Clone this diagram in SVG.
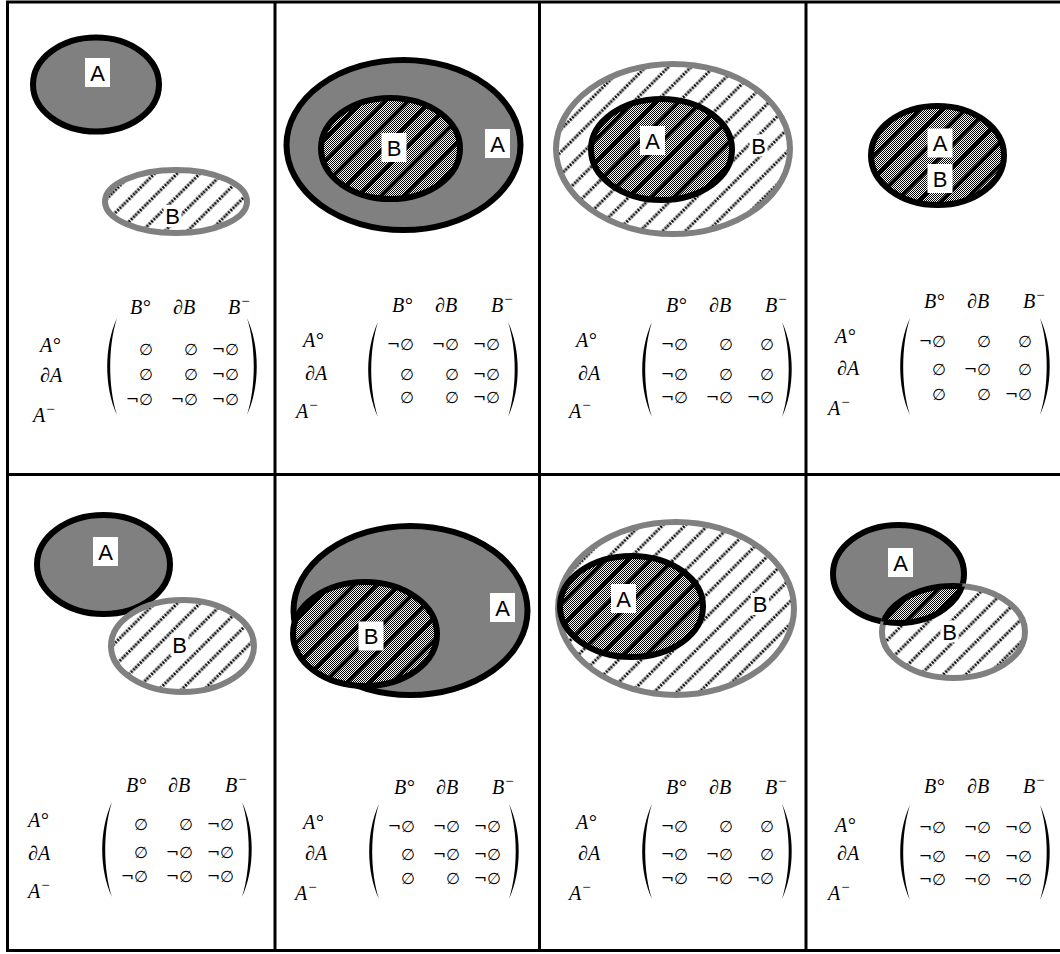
<svg xmlns="http://www.w3.org/2000/svg" width="1060" height="954" viewBox="0 0 1060 954">
<style>
.grid{stroke:#000;stroke-width:3;fill:none}
.sa{fill:#808080;stroke:#000;stroke-width:6}
.sb{fill:url(#hatch);stroke:#808080;stroke-width:6}
.ck{fill:url(#checker);stroke:none}
.st{fill:url(#stripes);stroke:#000;stroke-width:6}
.ol{fill:none;stroke:#000;stroke-width:6}
.bx{fill:#fff}
.lbl{font-family:"Liberation Sans",Arial,sans-serif;font-size:22px;text-anchor:middle;fill:#000}
.m{font-family:"Liberation Serif","DejaVu Serif",serif;font-style:italic;font-size:20px;fill:#000}
.sup{font-size:15px}
.e{font-family:"DejaVu Sans",sans-serif;font-style:italic;font-size:16px;text-anchor:end;fill:#000}
.par{fill:#000}
</style>
<defs>
<pattern id="hatch" patternUnits="userSpaceOnUse" width="16" height="16" patternTransform="rotate(45)">
<rect width="16" height="16" fill="#fff"/>
<line x1="8" y1="0" x2="8" y2="16" stroke="#000" stroke-width="3" stroke-dasharray="2 1.2"/>
</pattern>
<pattern id="checker" patternUnits="userSpaceOnUse" width="2" height="2">
<rect width="2" height="2" fill="#fff"/>
<rect width="1" height="1" fill="#000"/>
<rect x="1" y="1" width="1" height="1" fill="#000"/>
</pattern>
<pattern id="stripes" patternUnits="userSpaceOnUse" width="16" height="16" patternTransform="rotate(45)">
<rect x="6" y="0" width="4" height="16" fill="#000"/>
</pattern>
<clipPath id="clipA8"><ellipse cx="898.5" cy="574" rx="65.5" ry="49"/></clipPath>
<clipPath id="clipB8"><ellipse cx="953.5" cy="632" rx="71.5" ry="46"/></clipPath>
</defs>
<rect width="1060" height="954" fill="#fff"/>

<g id="grid" class="grid">
<line x1="6" y1="2" x2="1060" y2="2"/>
<line x1="6" y1="474.5" x2="1060" y2="474.5"/>
<line x1="6" y1="950.5" x2="1060" y2="950.5"/>
<line x1="7.5" y1="1" x2="7.5" y2="952"/>
<line x1="275" y1="1" x2="275" y2="952"/>
<line x1="539.5" y1="1" x2="539.5" y2="952"/>
<line x1="806" y1="1" x2="806" y2="952"/>
</g>

<!-- Panel 1: disjoint -->
<g id="p1">
<g id="p1-A"><ellipse class="sa" cx="96" cy="84.5" rx="63" ry="47"/><rect class="bx" x="85" y="58" width="25" height="29"/><text class="lbl" x="97.5" y="80.5">A</text></g>
<g id="p1-B"><ellipse class="sb" cx="176" cy="201.5" rx="71" ry="31.5"/><rect class="bx" x="163.5" y="205" width="18" height="22"/><text class="lbl" x="172.5" y="224">B</text></g>
<g id="p1-matrix">
<text class="m" x="130" y="314">B°</text><text class="m" x="173" y="314">∂B</text><text class="m" x="228" y="314">B<tspan class="sup" dy="-8">−</tspan></text>
<text class="m" x="40" y="352">A°</text><text class="m" x="40" y="382">∂A</text><text class="m" x="33" y="422">A<tspan class="sup" dy="-8">−</tspan></text>
<path class="par" d="M117 318 C104 346 104 387 117 415 C108 387 108 346 117 318 Z"/>
<path class="par" d="M247 318 C260 346 260 387 247 415 C256 387 256 346 247 318 Z"/>
<text class="e" x="153" y="355">∅</text><text class="e" x="198" y="355">∅</text><text class="e" x="239" y="355">¬∅</text>
<text class="e" x="153" y="380">∅</text><text class="e" x="198" y="380">∅</text><text class="e" x="239" y="380">¬∅</text>
<text class="e" x="153" y="405">¬∅</text><text class="e" x="198" y="405">¬∅</text><text class="e" x="239" y="405">¬∅</text>
</g>
</g>

<!-- Panel 2: contains -->
<g id="p2">
<g id="p2-A"><ellipse class="sa" cx="403.5" cy="145" rx="117" ry="85"/></g>
<g id="p2-B"><ellipse class="ck" cx="390.5" cy="148.5" rx="69.5" ry="50.5"/><ellipse class="st" cx="390.5" cy="148.5" rx="69.5" ry="50.5"/></g>
<rect class="bx" x="381.5" y="133" width="25" height="29"/><text class="lbl" x="394" y="155.5">B</text>
<rect class="bx" x="485" y="129" width="25" height="29"/><text class="lbl" x="497.5" y="151.5">A</text>
<g id="p2-matrix">
<text class="m" x="392" y="312">B°</text><text class="m" x="435" y="312">∂B</text><text class="m" x="491" y="312">B<tspan class="sup" dy="-8">−</tspan></text>
<text class="m" x="303" y="347">A°</text><text class="m" x="305" y="380">∂A</text><text class="m" x="296" y="418">A<tspan class="sup" dy="-8">−</tspan></text>
<path class="par" d="M378 322 C365 350 365 389 378 417 C369 389 369 350 378 322 Z"/>
<path class="par" d="M508 322 C521 350 521 389 508 417 C517 389 517 350 508 322 Z"/>
<text class="e" x="414" y="350">¬∅</text><text class="e" x="459" y="350">¬∅</text><text class="e" x="500" y="350">¬∅</text>
<text class="e" x="414" y="380">∅</text><text class="e" x="459" y="380">∅</text><text class="e" x="500" y="380">¬∅</text>
<text class="e" x="414" y="403">∅</text><text class="e" x="459" y="403">∅</text><text class="e" x="500" y="403">¬∅</text>
</g>
</g>

<!-- Panel 3: inside -->
<g id="p3">
<g id="p3-B"><ellipse class="sb" cx="673" cy="149" rx="117" ry="85"/></g>
<g id="p3-A"><ellipse class="ck" cx="661.5" cy="149.5" rx="70.5" ry="50.5"/><ellipse class="st" cx="661.5" cy="149.5" rx="70.5" ry="50.5"/></g>
<rect class="bx" x="640" y="126" width="25" height="29"/><text class="lbl" x="652.5" y="148.5">A</text>
<rect class="bx" x="749.5" y="134.5" width="18" height="22"/><text class="lbl" x="758.5" y="153.5">B</text>
<g id="p3-matrix">
<text class="m" x="666" y="312">B°</text><text class="m" x="709" y="312">∂B</text><text class="m" x="765" y="312">B<tspan class="sup" dy="-8">−</tspan></text>
<text class="m" x="576" y="347">A°</text><text class="m" x="578" y="380">∂A</text><text class="m" x="569" y="418">A<tspan class="sup" dy="-8">−</tspan></text>
<path class="par" d="M652 322 C639 350 639 389 652 417 C643 389 643 350 652 322 Z"/>
<path class="par" d="M782 322 C795 350 795 389 782 417 C791 389 791 350 782 322 Z"/>
<text class="e" x="688" y="350">¬∅</text><text class="e" x="733" y="350">∅</text><text class="e" x="774" y="350">∅</text>
<text class="e" x="688" y="380">¬∅</text><text class="e" x="733" y="380">∅</text><text class="e" x="774" y="380">∅</text>
<text class="e" x="688" y="403">¬∅</text><text class="e" x="733" y="403">¬∅</text><text class="e" x="774" y="403">¬∅</text>
</g>
</g>

<!-- Panel 4: equal -->
<g id="p4">
<g id="p4-AB"><ellipse class="ck" cx="937.5" cy="155.5" rx="66.5" ry="49.5"/><ellipse class="st" cx="937.5" cy="155.5" rx="66.5" ry="49.5"/></g>
<rect class="bx" x="927.5" y="128.5" width="25" height="29"/><text class="lbl" x="940" y="151">A</text>
<rect class="bx" x="927.5" y="164" width="25" height="29"/><text class="lbl" x="940" y="186.5">B</text>
<g id="p4-matrix">
<text class="m" x="924" y="308">B°</text><text class="m" x="967" y="308">∂B</text><text class="m" x="1023" y="308">B<tspan class="sup" dy="-8">−</tspan></text>
<text class="m" x="835" y="343">A°</text><text class="m" x="837" y="375">∂A</text><text class="m" x="828" y="415">A<tspan class="sup" dy="-8">−</tspan></text>
<path class="par" d="M910 318 C897 346 897 387 910 415 C901 387 901 346 910 318 Z"/>
<path class="par" d="M1040 318 C1053 346 1053 387 1040 415 C1049 387 1049 346 1040 318 Z"/>
<text class="e" x="946" y="347">¬∅</text><text class="e" x="991" y="347">∅</text><text class="e" x="1032" y="347">∅</text>
<text class="e" x="946" y="375">∅</text><text class="e" x="991" y="375">¬∅</text><text class="e" x="1032" y="375">∅</text>
<text class="e" x="946" y="400">∅</text><text class="e" x="991" y="400">∅</text><text class="e" x="1032" y="400">¬∅</text>
</g>
</g>

<!-- Panel 5: meet -->
<g id="p5">
<g id="p5-A"><ellipse class="sa" cx="103.5" cy="564.5" rx="66.5" ry="49.5"/></g>
<g id="p5-B"><ellipse class="sb" cx="182.5" cy="646" rx="71.5" ry="46"/></g>
<rect class="bx" x="93" y="537" width="25" height="29"/><text class="lbl" x="105.5" y="559.5">A</text>
<rect class="bx" x="170.5" y="634" width="18" height="22"/><text class="lbl" x="179.5" y="653">B</text>
<g id="p5-matrix">
<text class="m" x="126" y="792">B°</text><text class="m" x="168" y="792">∂B</text><text class="m" x="225" y="792">B<tspan class="sup" dy="-8">−</tspan></text>
<text class="m" x="28" y="827">A°</text><text class="m" x="28" y="860">∂A</text><text class="m" x="28" y="898">A<tspan class="sup" dy="-8">−</tspan></text>
<path class="par" d="M112 802 C99 830 99 869 112 897 C103 869 103 830 112 802 Z"/>
<path class="par" d="M242 802 C255 830 255 869 242 897 C251 869 251 830 242 802 Z"/>
<text class="e" x="148" y="830">∅</text><text class="e" x="193" y="830">∅</text><text class="e" x="234" y="830">¬∅</text>
<text class="e" x="148" y="858">∅</text><text class="e" x="193" y="858">¬∅</text><text class="e" x="234" y="858">¬∅</text>
<text class="e" x="148" y="882">¬∅</text><text class="e" x="193" y="882">¬∅</text><text class="e" x="234" y="882">¬∅</text>
</g>
</g>

<!-- Panel 6: covers -->
<g id="p6">
<g id="p6-A"><ellipse class="sa" cx="410.5" cy="610.5" rx="117" ry="84.5"/></g>
<g id="p6-B"><ellipse class="ck" cx="365" cy="634" rx="72" ry="52"/><ellipse class="st" cx="365" cy="634" rx="72" ry="52"/></g>
<rect class="bx" x="358.5" y="621.5" width="25" height="29"/><text class="lbl" x="371" y="644">B</text>
<rect class="bx" x="490" y="593" width="25" height="29"/><text class="lbl" x="502.5" y="615.5">A</text>
<g id="p6-matrix">
<text class="m" x="394" y="794">B°</text><text class="m" x="436" y="794">∂B</text><text class="m" x="492" y="794">B<tspan class="sup" dy="-8">−</tspan></text>
<text class="m" x="303" y="829">A°</text><text class="m" x="305" y="860">∂A</text><text class="m" x="295" y="900">A<tspan class="sup" dy="-8">−</tspan></text>
<path class="par" d="M379 804 C366 832 366 871 379 899 C370 871 370 832 379 804 Z"/>
<path class="par" d="M509 804 C522 832 522 871 509 899 C518 871 518 832 509 804 Z"/>
<text class="e" x="415" y="832">¬∅</text><text class="e" x="460" y="832">¬∅</text><text class="e" x="501" y="832">¬∅</text>
<text class="e" x="415" y="860">∅</text><text class="e" x="460" y="860">¬∅</text><text class="e" x="501" y="860">¬∅</text>
<text class="e" x="415" y="884">∅</text><text class="e" x="460" y="884">∅</text><text class="e" x="501" y="884">¬∅</text>
</g>
</g>

<!-- Panel 7: covered by -->
<g id="p7">
<g id="p7-B"><ellipse class="sb" cx="676" cy="608.5" rx="118" ry="86.5"/></g>
<g id="p7-A"><ellipse class="ck" cx="631.5" cy="606.5" rx="71.5" ry="50.5"/><ellipse class="st" cx="631.5" cy="606.5" rx="71.5" ry="50.5"/></g>
<rect class="bx" x="611" y="584" width="25" height="29"/><text class="lbl" x="623.5" y="606.5">A</text>
<rect class="bx" x="751" y="593" width="18" height="22"/><text class="lbl" x="760" y="612">B</text>
<g id="p7-matrix">
<text class="m" x="666" y="794">B°</text><text class="m" x="709" y="794">∂B</text><text class="m" x="765" y="794">B<tspan class="sup" dy="-8">−</tspan></text>
<text class="m" x="576" y="829">A°</text><text class="m" x="578" y="860">∂A</text><text class="m" x="569" y="900">A<tspan class="sup" dy="-8">−</tspan></text>
<path class="par" d="M652 804 C639 832 639 871 652 899 C643 871 643 832 652 804 Z"/>
<path class="par" d="M782 804 C795 832 795 871 782 899 C791 871 791 832 782 804 Z"/>
<text class="e" x="688" y="832">¬∅</text><text class="e" x="733" y="832">∅</text><text class="e" x="774" y="832">∅</text>
<text class="e" x="688" y="860">¬∅</text><text class="e" x="733" y="860">¬∅</text><text class="e" x="774" y="860">∅</text>
<text class="e" x="688" y="884">¬∅</text><text class="e" x="733" y="884">¬∅</text><text class="e" x="774" y="884">¬∅</text>
</g>
</g>

<!-- Panel 8: overlap -->
<g id="p8">
<g id="p8-A"><ellipse class="sa" cx="898.5" cy="574" rx="65.5" ry="49"/></g>
<g id="p8-B"><ellipse class="sb" cx="953.5" cy="632" rx="71.5" ry="46"/></g>
<g id="p8-AB">
<g clip-path="url(#clipA8)"><ellipse class="ck" cx="953.5" cy="632" rx="71.5" ry="46"/><ellipse class="st" cx="953.5" cy="632" rx="71.5" ry="46"/></g>
<g clip-path="url(#clipB8)"><ellipse class="ol" cx="898.5" cy="574" rx="65.5" ry="49"/></g>
</g>
<rect class="bx" x="888" y="548" width="25" height="29"/><text class="lbl" x="900.5" y="570.5">A</text>
<rect class="bx" x="940.5" y="620.5" width="18" height="22"/><text class="lbl" x="949.5" y="639.5">B</text>
<g id="p8-matrix">
<text class="m" x="924" y="793">B°</text><text class="m" x="967" y="793">∂B</text><text class="m" x="1023" y="793">B<tspan class="sup" dy="-8">−</tspan></text>
<text class="m" x="835" y="832">A°</text><text class="m" x="837" y="860">∂A</text><text class="m" x="828" y="900">A<tspan class="sup" dy="-8">−</tspan></text>
<path class="par" d="M910 805 C897 833 897 872 910 900 C901 872 901 833 910 805 Z"/>
<path class="par" d="M1040 805 C1053 833 1053 872 1040 900 C1049 872 1049 833 1040 805 Z"/>
<text class="e" x="946" y="833">¬∅</text><text class="e" x="991" y="833">¬∅</text><text class="e" x="1032" y="833">¬∅</text>
<text class="e" x="946" y="862">¬∅</text><text class="e" x="991" y="862">¬∅</text><text class="e" x="1032" y="862">¬∅</text>
<text class="e" x="946" y="885">¬∅</text><text class="e" x="991" y="885">¬∅</text><text class="e" x="1032" y="885">¬∅</text>
</g>
</g>
</svg>
